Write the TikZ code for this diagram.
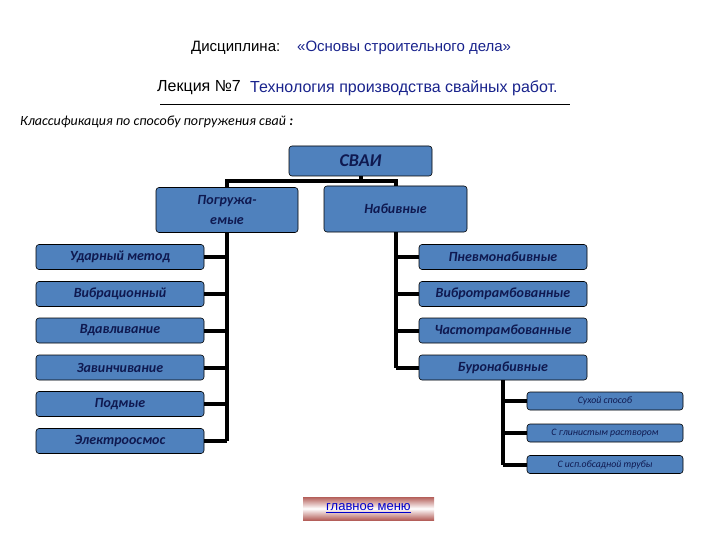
\documentclass[tikz,border=0pt]{standalone}
\usepackage{fontspec}
\setmainfont{Liberation Sans}
\newfontfamily\boxfont{Carlito}
\usetikzlibrary{positioning}
\definecolor{boxblue}{RGB}{79,129,189}
\definecolor{navytext}{RGB}{15,25,80}
\definecolor{titleblue}{RGB}{25,35,140}
\definecolor{btnred}{RGB}{180,95,90}
\tikzset{
	pile/.style = {draw = black, fill = boxblue, rounded corners = 3pt, line width = 0.6pt,
		text = navytext, font = \boxfont\bfseries\itshape\fontsize{14}{15}\selectfont,
		minimum width = 168pt, minimum height = 25pt, inner sep = 0pt},
	subpile/.style = {pile, font = \boxfont\itshape\fontsize{9.8}{10}\selectfont,
		minimum width = 156pt, minimum height = 18pt},
	conn/.style = {line width = 4pt}
}
\begin{document}
\begin{tikzpicture} [x = 1pt, y = -1pt]
	\useasboundingbox (0,0) rectangle (720,540);
	% header
	\node [anchor = west, inner sep = 0pt, font = \fontsize{15}{16}\selectfont] (disc) at (191,48) {Дисциплина:};
	\node [anchor = west, inner sep = 0pt, text = titleblue, font = \fontsize{15}{16}\selectfont] (course) at (297,48) {«Основы строительного дела»};
	\node [anchor = west, inner sep = 0pt, font = \fontsize{16}{18}\selectfont] (lect) at (157,88) {Лекция №7};
	\node [anchor = west, inner sep = 0pt, text = titleblue, font = \fontsize{16}{18}\selectfont] (topic) at (250,88) {Технология производства свайных работ.};
	\draw [line width = 0.8pt] (160,104) -- (570,104);
	\node [anchor = west, inner sep = 0pt, font = \boxfont\itshape\fontsize{14}{15}\selectfont] (klass) at (20,122) {Классификация по способу погружения свай \textbf{:}};
	% top level
	\node [pile, minimum width = 143pt, minimum height = 30pt, font = \boxfont\bfseries\itshape\fontsize{18}{19}\selectfont] (svai) at (360.5,161) {СВАИ};
	\node [pile, minimum width = 142pt, minimum height = 45pt, align = center, font = \boxfont\bfseries\itshape\fontsize{14}{20}\selectfont] (pogr) at (227,210) {Погружа-\\емые};
	\node [pile, minimum width = 143pt, minimum height = 46pt] (nabiv) at (395.5,209) {Набивные};
	% left column
	\node [pile] (udar) at (120,257) {Ударный метод};
	\node [pile] (vibr) at (120,294) {Вибрационный};
	\node [pile] (vdav) at (120,330.5) {Вдавливание};
	\node [pile] (zavin) at (120,367.5) {Завинчивание};
	\node [pile] (podmyv) at (120,404) {Подмые};
	\node [pile] (elektr) at (120,441) {Электроосмос};
	% right column
	\node [pile] (pnevmo) at (503,257) {Пневмонабивные};
	\node [pile] (vibrotr) at (503,294) {Вибротрамбованные};
	\node [pile] (chastot) at (503,330.5) {Частотрамбованные};
	\node [pile] (buro) at (503,367.5) {Буронабивные};
	% bored piles
	\node [subpile] (sukh) at (605,401) {Сухой способ};
	\node [subpile] (glin) at (605,433) {С глинистым раствором};
	\node [subpile] (obsad) at (605,464.5) {С исп.обсадной трубы};
	% connectors
	\draw [conn] (svai.south) -- ++(0,5);
	\draw [conn] (pogr.north) -- ++(0,-6.5) -| (nabiv.north);
	\draw [conn] (pogr.south) -- (pogr.south |- elektr.east);
	\draw [conn] (udar.east) -- (udar.east -| pogr.south);
	\draw [conn] (vibr.east) -- (vibr.east -| pogr.south);
	\draw [conn] (vdav.east) -- (vdav.east -| pogr.south);
	\draw [conn] (zavin.east) -- (zavin.east -| pogr.south);
	\draw [conn] (podmyv.east) -- (podmyv.east -| pogr.south);
	\draw [conn] (elektr.east) -- (elektr.east -| pogr.south);
	\draw [conn] (nabiv.south) -- (nabiv.south |- buro.west);
	\draw [conn] (pnevmo.west) -- (pnevmo.west -| nabiv.south);
	\draw [conn] (vibrotr.west) -- (vibrotr.west -| nabiv.south);
	\draw [conn] (chastot.west) -- (chastot.west -| nabiv.south);
	\draw [conn] (buro.west) -- (buro.west -| nabiv.south);
	\draw [conn] (buro.south) -- (buro.south |- obsad.west);
	\draw [conn] (sukh.west) -- (sukh.west -| buro.south);
	\draw [conn] (glin.west) -- (glin.west -| buro.south);
	\draw [conn] (obsad.west) -- (obsad.west -| buro.south);
	% menu button
	\node [minimum width = 131pt, minimum height = 23pt, top color = btnred, bottom color = btnred, middle color = white,
		text = blue!80!black, font = \fontsize{13}{14}\selectfont] (menu) at (368.5,508.5) {\underline{главное меню}};
\end{tikzpicture}
\end{document}
